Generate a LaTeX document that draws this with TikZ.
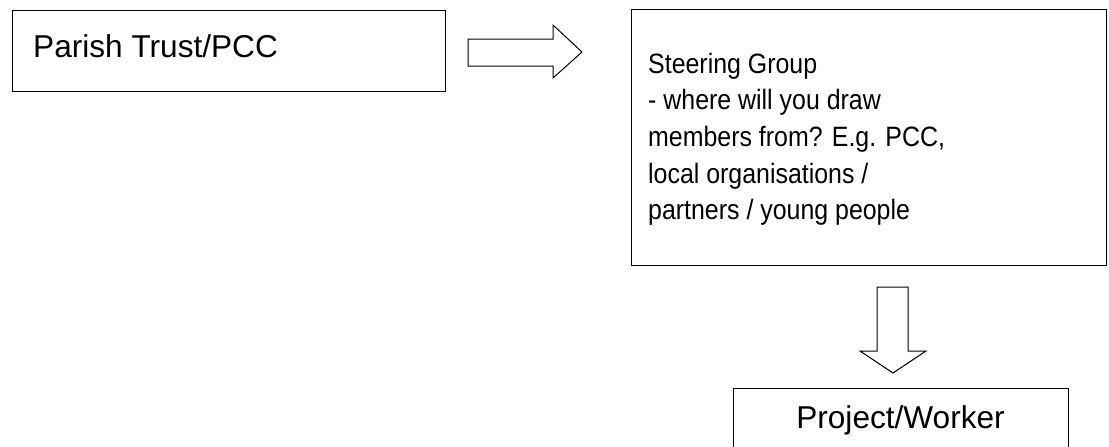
\documentclass[tikz,border=0pt]{standalone}
\usepackage{fontspec}
\setmainfont{Liberation Sans}
\newfontfamily\narrowfont[FakeStretch=0.89]{Liberation Sans}
\begin{document}
\begin{tikzpicture}[x=1pt,y=1pt,
  box/.style={draw=black, line width=1pt, inner sep=0pt},
  bigtext/.style={font=\fontsize{31.6}{38}\selectfont, inner sep=0pt},
  midtext/.style={font=\narrowfont\fontsize{28}{36.6}\selectfont, inner sep=0pt, align=left},
  blockarrow/.style={draw=black, line width=1pt, fill=white, line join=miter}]
\useasboundingbox (0,0) rectangle (1109,-447);
% boxes
\node[box, minimum width=433pt, minimum height=81pt] (trust) at (228.5,-50.5) {};
\node[bigtext, anchor=base west] (trusttext) at (33,-57) {Parish Trust/PCC};
\node[box, minimum width=475pt, minimum height=256pt] (steer) at (868.5,-137) {};
\node[midtext, anchor=base west] (steertext) at (648,-219.6) {Steering Group\\- where will you draw\\members from? E.g. PCC,\\local organisations /\\partners / young people};
\node[box, minimum width=335pt, minimum height=80pt] (worker) at (900.5,-428) {};
\node[bigtext, anchor=base] (workertext) at (900.5,-428) {Project/Worker};
% block arrows
\coordinate (ra) at (468,-52.5);
\draw[blockarrow] (ra) ++(0,13.5) -- ++(85,0) -- ++(0,14) -- (582,-52) -- (553,-78) -- ++(0,12) -- ++(-85,0) -- cycle;
\coordinate (da) at (892.5,-287);
\draw[blockarrow] (da) ++(-15.5,0) -- ++(31,0) -- ++(0,-64) -- ++(18,0) -- (893,-373) -- (860,-351) -- ++(17,0) -- cycle;
\end{tikzpicture}
\end{document}
